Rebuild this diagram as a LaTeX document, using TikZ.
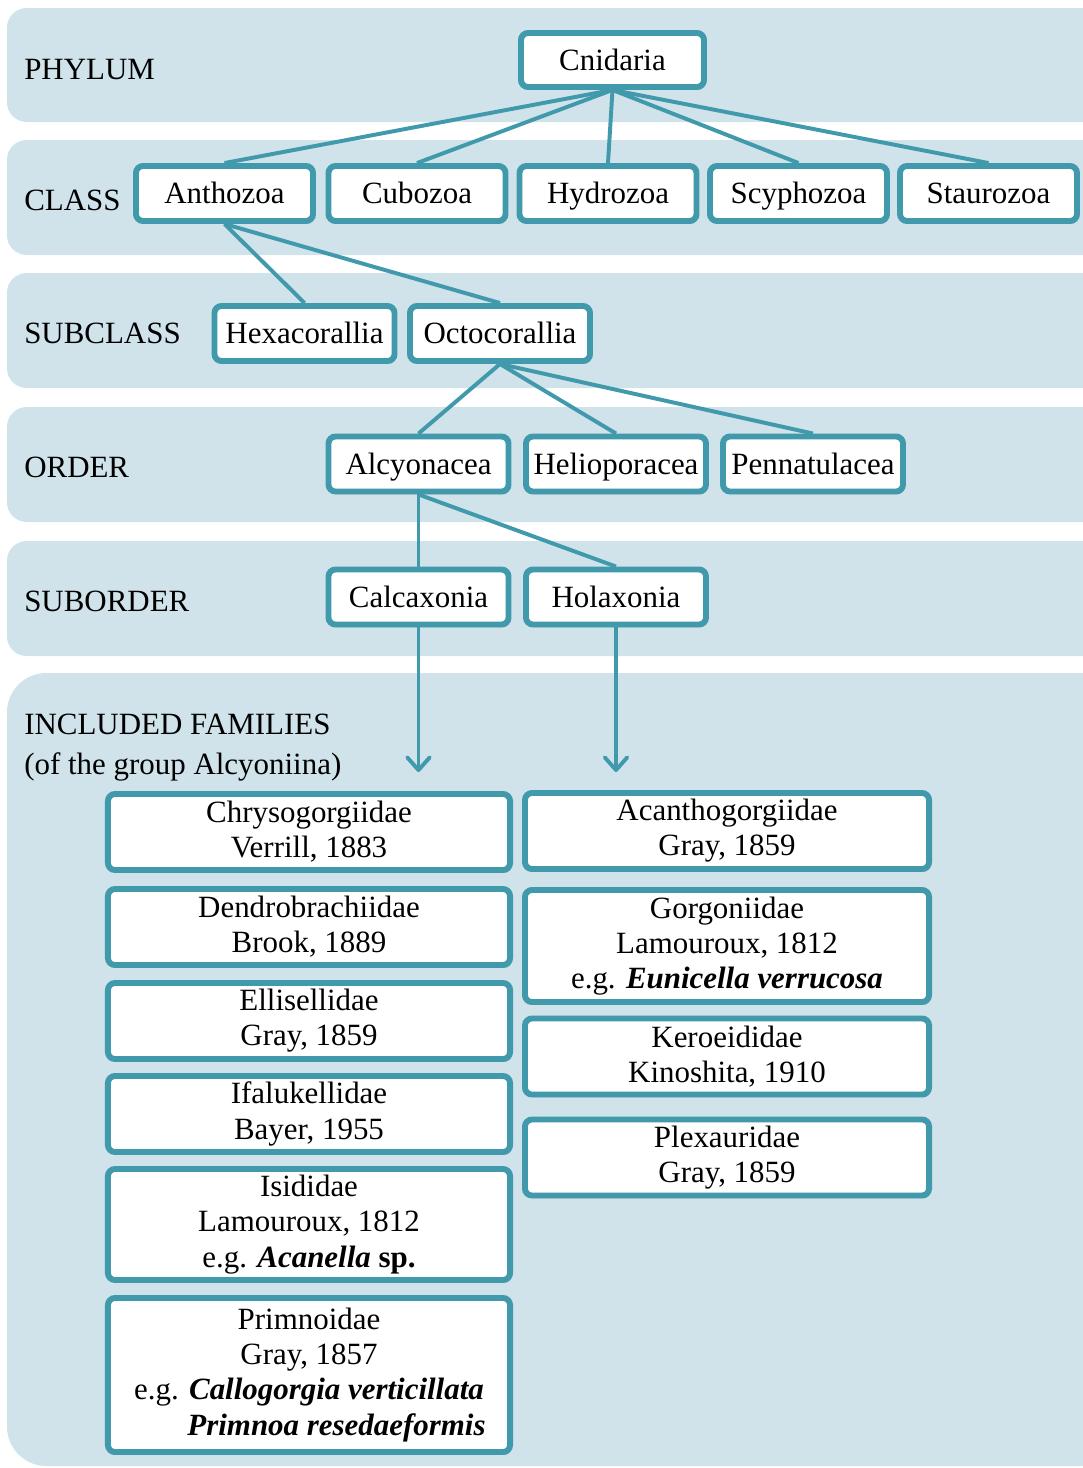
\documentclass[tikz,border=0pt]{standalone}
\usepackage{fontspec}
\setmainfont{Liberation Serif}
\usepackage{tikz}
\usetikzlibrary{arrows.meta,shapes,positioning,shadows}
\definecolor{bandblue}{RGB}{208,226,234}
\definecolor{tealline}{RGB}{64,154,172}
\tikzstyle{band} = [fill=bandblue, rounded corners=14pt]
\tikzstyle{rank} = [anchor=west, inner sep=0pt, font=\fontsize{22}{28}\selectfont]
\tikzstyle{boxbase} = [draw=tealline, line width=4.2pt, fill=white, rounded corners=5pt,
  minimum width=4.5cm, minimum height=1.375cm, inner sep=2pt,
  font=\fontsize{22}{25}\selectfont,
  drop shadow={opacity=0.3, shadow xshift=1pt, shadow yshift=-2pt}]
\tikzstyle{taxon} = [boxbase, text height=16pt, text depth=1.4pt]
\tikzstyle{family} = [boxbase, align=center, minimum width=10.05cm, minimum height=1.9cm]
\tikzstyle{link} = [line width=2.8pt, color=tealline]
\tikzstyle{arrow} = [link, -{Straight Barb[round, length=9pt, width=16pt, line width=0pt 1]}]

\begin{document}
\begin{tikzpicture}[x=0.025cm, y=-0.025cm]
\useasboundingbox (0,0) rectangle (1083,1468);
\clip (0,0) rectangle (1083,1468);

% Bands
\fill[band] (7,8) rectangle (1120,122);
\fill[band] (7,140) rectangle (1120,255);
\fill[band] (7,273) rectangle (1120,388);
\fill[band] (7,407) rectangle (1120,522);
\fill[band] (7,541) rectangle (1120,656);
\fill[band, rounded corners=28pt] (7,673) rectangle (1120,1466);

% Rank labels
\node[rank] (lphy) at (24,70) {PHYLUM};
\node[rank] (lcla) at (24,200) {CLASS};
\node[rank] (lsub) at (24,333) {SUBCLASS};
\node[rank] (lord) at (24,467) {ORDER};
\node[rank] (lsor) at (24,601) {SUBORDER};
\node[rank, anchor=north west, align=left] (lfam) at (24,714)
  {INCLUDED FAMILIES\\(of the group Alcyoniina)};

% Phylum and classes
\node[taxon, minimum width=4.575cm, minimum height=1.35cm] (cnid) at (612.5,60) {Cnidaria};
\node[taxon, minimum width=4.425cm] (anth) at (224.5,193.5) {Anthozoa};
\node[taxon, minimum width=4.425cm] (cubo) at (417,193.5) {Cubozoa};
\node[taxon, minimum width=4.425cm] (hydr) at (608,193.5) {Hydrozoa};
\node[taxon, minimum width=4.425cm] (scyp) at (798.5,193.5) {Scyphozoa};
\node[taxon, minimum width=4.425cm] (stau) at (988.5,193.5) {Staurozoa};

% Subclasses, orders, suborders
\node[taxon] (hexa) at (304.5,333.5) {Hexacorallia};
\node[taxon] (octo) at (500,333.5) {Octocorallia};
\node[taxon] (alcy) at (418.5,464) {Alcyonacea};
\node[taxon] (heli) at (616,464) {Helioporacea};
\node[taxon] (penn) at (813,464) {Pennatulacea};
\node[taxon] (calc) at (418.5,597) {Calcaxonia};
\node[taxon] (hola) at (616,597) {Holaxonia};

% Tree links
\foreach \child in {anth,cubo,hydr,scyp,stau}
  \draw[link] (cnid.south) -- (\child.north);
\foreach \child in {hexa,octo}
  \draw[link] (anth.south) -- (\child.north);
\foreach \child in {alcy,heli,penn}
  \draw[link] (octo.south) -- (\child.north);
\foreach \child in {calc,hola}
  \draw[link] (alcy.south) -- (\child.north);

% Arrows down to the families
\coordinate (calcend) at (418.5,772);
\coordinate (holaend) at (616,772);
\draw[arrow] (calc.south) -- (calcend);
\draw[arrow] (hola.south) -- (holaend);

% Calcaxonia families
\node[family] (chry) at (309,832) {Chrysogorgiidae\\Verrill, 1883};
\node[family] (dend) at (309,927) {Dendrobrachiidae\\Brook, 1889};
\node[family] (elli) at (309,1021) {Ellisellidae\\Gray, 1859};
\node[family] (ifal) at (309,1114) {Ifalukellidae\\Bayer, 1955};
\node[family, minimum height=2.775cm] (isid) at (309,1224.5)
  {Isididae\\Lamouroux, 1812\\e.g. \textbf{\textit{Acanella} sp.}};
\node[family, minimum height=3.85cm] (prim) at (309,1375)
  {Primnoidae\\Gray, 1857\\e.g. \textbf{\textit{Callogorgia verticillata}}\\
   \phantom{e.g. }\textbf{\textit{Primnoa resedaeformis}}};

% Holaxonia families
\node[family, minimum width=10.1cm] (acan) at (727,831) {Acanthogorgiidae\\Gray, 1859};
\node[family, minimum width=10.1cm, minimum height=2.8cm] (gorg) at (727,946)
  {Gorgoniidae\\Lamouroux, 1812\\e.g. \textbf{\textit{Eunicella verrucosa}}};
\node[family, minimum width=10.1cm] (kero) at (727,1056.5) {Keroeididae\\Kinoshita, 1910};
\node[family, minimum width=10.1cm] (plex) at (727,1157.5) {Plexauridae\\Gray, 1859};
\end{tikzpicture}
\end{document}
